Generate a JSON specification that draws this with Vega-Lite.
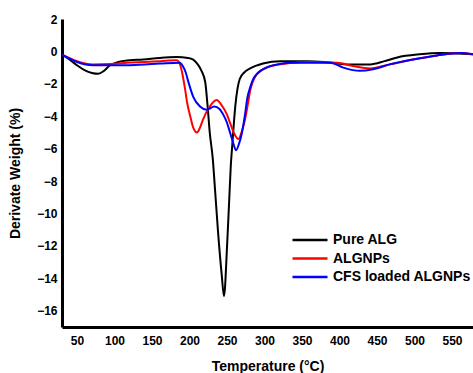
{
  "$schema": "https://vega.github.io/schema/vega-lite/v6.json",
  "width": 411,
  "height": 308,
  "autosize": {"type": "none"},
  "padding": {"left": 62, "top": 19, "right": 0, "bottom": 46},
  "background": "white",
  "config": {"view": {"stroke": null}},
  "data": {"values": [
    {"s":"Pure ALG","t":30,"w":-0.2},{"s":"Pure ALG","t":40,"w":-0.5},{"s":"Pure ALG","t":50,"w":-0.85},{"s":"Pure ALG","t":60,"w":-1.15},{"s":"Pure ALG","t":70,"w":-1.33},{"s":"Pure ALG","t":78,"w":-1.38},{"s":"Pure ALG","t":86,"w":-1.2},{"s":"Pure ALG","t":94,"w":-0.85},{"s":"Pure ALG","t":105,"w":-0.65},{"s":"Pure ALG","t":120,"w":-0.55},{"s":"Pure ALG","t":138,"w":-0.5},{"s":"Pure ALG","t":160,"w":-0.4},{"s":"Pure ALG","t":183,"w":-0.35},{"s":"Pure ALG","t":198,"w":-0.4},{"s":"Pure ALG","t":205,"w":-0.5},{"s":"Pure ALG","t":211,"w":-0.8},{"s":"Pure ALG","t":216,"w":-1.2},{"s":"Pure ALG","t":221,"w":-1.9},{"s":"Pure ALG","t":224,"w":-3.3},{"s":"Pure ALG","t":227,"w":-5.0},{"s":"Pure ALG","t":231,"w":-6.6},{"s":"Pure ALG","t":234,"w":-8.5},{"s":"Pure ALG","t":238,"w":-11.1},{"s":"Pure ALG","t":243,"w":-13.8},{"s":"Pure ALG","t":246,"w":-15.1},{"s":"Pure ALG","t":250,"w":-12.1},{"s":"Pure ALG","t":253,"w":-9.1},{"s":"Pure ALG","t":255,"w":-7.1},{"s":"Pure ALG","t":257,"w":-5.8},{"s":"Pure ALG","t":261,"w":-3.4},{"s":"Pure ALG","t":264,"w":-2.3},{"s":"Pure ALG","t":267,"w":-1.7},{"s":"Pure ALG","t":273,"w":-1.3},{"s":"Pure ALG","t":281,"w":-1.05},{"s":"Pure ALG","t":298,"w":-0.75},{"s":"Pure ALG","t":321,"w":-0.6},{"s":"Pure ALG","t":357,"w":-0.6},{"s":"Pure ALG","t":380,"w":-0.65},{"s":"Pure ALG","t":410,"w":-0.8},{"s":"Pure ALG","t":441,"w":-0.8},{"s":"Pure ALG","t":460,"w":-0.6},{"s":"Pure ALG","t":477,"w":-0.37},{"s":"Pure ALG","t":507,"w":-0.18},{"s":"Pure ALG","t":534,"w":-0.1},{"s":"Pure ALG","t":578,"w":-0.18},

    {"s":"ALGNPs","t":30,"w":-0.2},{"s":"ALGNPs","t":50,"w":-0.6},{"s":"ALGNPs","t":71,"w":-0.8},{"s":"ALGNPs","t":95,"w":-0.78},{"s":"ALGNPs","t":117,"w":-0.7},{"s":"ALGNPs","t":140,"w":-0.65},{"s":"ALGNPs","t":161,"w":-0.6},{"s":"ALGNPs","t":183,"w":-0.55},{"s":"ALGNPs","t":188,"w":-0.9},{"s":"ALGNPs","t":191,"w":-1.5},{"s":"ALGNPs","t":194,"w":-2.3},{"s":"ALGNPs","t":197,"w":-3.2},{"s":"ALGNPs","t":201,"w":-4.0},{"s":"ALGNPs","t":205,"w":-4.7},{"s":"ALGNPs","t":210,"w":-5.0},{"s":"ALGNPs","t":214,"w":-4.7},{"s":"ALGNPs","t":218,"w":-4.2},{"s":"ALGNPs","t":227,"w":-3.4},{"s":"ALGNPs","t":236,"w":-3.0},{"s":"ALGNPs","t":244,"w":-3.4},{"s":"ALGNPs","t":250,"w":-3.9},{"s":"ALGNPs","t":254,"w":-4.4},{"s":"ALGNPs","t":260,"w":-5.1},{"s":"ALGNPs","t":265,"w":-5.4},{"s":"ALGNPs","t":270,"w":-4.9},{"s":"ALGNPs","t":274,"w":-4.2},{"s":"ALGNPs","t":278,"w":-3.2},{"s":"ALGNPs","t":281,"w":-2.4},{"s":"ALGNPs","t":285,"w":-1.8},{"s":"ALGNPs","t":290,"w":-1.4},{"s":"ALGNPs","t":303,"w":-1.0},{"s":"ALGNPs","t":321,"w":-0.8},{"s":"ALGNPs","t":334,"w":-0.72},{"s":"ALGNPs","t":357,"w":-0.65},{"s":"ALGNPs","t":397,"w":-0.7},{"s":"ALGNPs","t":418,"w":-0.9},{"s":"ALGNPs","t":441,"w":-1.05},{"s":"ALGNPs","t":467,"w":-0.8},{"s":"ALGNPs","t":498,"w":-0.5},{"s":"ALGNPs","t":530,"w":-0.25},{"s":"ALGNPs","t":561,"w":-0.1},{"s":"ALGNPs","t":578,"w":-0.18},

    {"s":"CFS loaded ALGNPs","t":30,"w":-0.2},{"s":"CFS loaded ALGNPs","t":50,"w":-0.65},{"s":"CFS loaded ALGNPs","t":71,"w":-0.85},{"s":"CFS loaded ALGNPs","t":95,"w":-0.85},{"s":"CFS loaded ALGNPs","t":117,"w":-0.85},{"s":"CFS loaded ALGNPs","t":140,"w":-0.8},{"s":"CFS loaded ALGNPs","t":161,"w":-0.75},{"s":"CFS loaded ALGNPs","t":187,"w":-0.7},{"s":"CFS loaded ALGNPs","t":191,"w":-0.9},{"s":"CFS loaded ALGNPs","t":195,"w":-1.3},{"s":"CFS loaded ALGNPs","t":198,"w":-1.8},{"s":"CFS loaded ALGNPs","t":205,"w":-2.8},{"s":"CFS loaded ALGNPs","t":214,"w":-3.4},{"s":"CFS loaded ALGNPs","t":223,"w":-3.6},{"s":"CFS loaded ALGNPs","t":233,"w":-3.4},{"s":"CFS loaded ALGNPs","t":240,"w":-3.55},{"s":"CFS loaded ALGNPs","t":245,"w":-3.9},{"s":"CFS loaded ALGNPs","t":250,"w":-4.4},{"s":"CFS loaded ALGNPs","t":254,"w":-5.0},{"s":"CFS loaded ALGNPs","t":258,"w":-5.6},{"s":"CFS loaded ALGNPs","t":262,"w":-6.1},{"s":"CFS loaded ALGNPs","t":266,"w":-5.7},{"s":"CFS loaded ALGNPs","t":270,"w":-5.0},{"s":"CFS loaded ALGNPs","t":274,"w":-3.9},{"s":"CFS loaded ALGNPs","t":277,"w":-2.9},{"s":"CFS loaded ALGNPs","t":281,"w":-2.2},{"s":"CFS loaded ALGNPs","t":285,"w":-1.7},{"s":"CFS loaded ALGNPs","t":298,"w":-1.1},{"s":"CFS loaded ALGNPs","t":317,"w":-0.8},{"s":"CFS loaded ALGNPs","t":334,"w":-0.7},{"s":"CFS loaded ALGNPs","t":357,"w":-0.7},{"s":"CFS loaded ALGNPs","t":388,"w":-0.7},{"s":"CFS loaded ALGNPs","t":405,"w":-1.0},{"s":"CFS loaded ALGNPs","t":427,"w":-1.2},{"s":"CFS loaded ALGNPs","t":445,"w":-1.1},{"s":"CFS loaded ALGNPs","t":467,"w":-0.8},{"s":"CFS loaded ALGNPs","t":498,"w":-0.5},{"s":"CFS loaded ALGNPs","t":530,"w":-0.25},{"s":"CFS loaded ALGNPs","t":561,"w":-0.1},{"s":"CFS loaded ALGNPs","t":578,"w":-0.18}
  ]},
  "mark": {"type": "line", "interpolate": "monotone", "strokeWidth": 2, "clip": true},
  "encoding": {
    "x": {
      "field": "t", "type": "quantitative",
      "scale": {"domain": [30, 578], "nice": false, "zero": false},
      "axis": {
        "title": "Temperature (°C)", "values": [50,100,150,200,250,300,350,400,450,500,550],
        "grid": false, "ticks": false, "domainColor": "black", "domainWidth": 3,
        "labelFont": "Liberation Sans", "labelFontWeight": "bold", "labelFontSize": 12, "labelColor": "black",
        "labelPadding": 8, "labelFlush": false,
        "titleFont": "Liberation Sans", "titleFontWeight": "bold", "titleFontSize": 14, "titleColor": "black",
        "titlePadding": 13
      }
    },
    "y": {
      "field": "w", "type": "quantitative",
      "scale": {"domain": [-17, 2], "nice": false, "zero": false},
      "axis": {
        "title": "Derivate Weight (%)", "values": [2,0,-2,-4,-6,-8,-10,-12,-14,-16],
        "grid": false, "ticks": false, "domainColor": "black", "domainWidth": 3,
        "labelFont": "Liberation Sans", "labelFontWeight": "bold", "labelFontSize": 12, "labelColor": "black",
        "labelPadding": 5,
        "titleFont": "Liberation Sans", "titleFontWeight": "bold", "titleFontSize": 14, "titleColor": "black",
        "titlePadding": 14
      }
    },
    "color": {
      "field": "s", "type": "nominal",
      "scale": {"domain": ["Pure ALG", "ALGNPs", "CFS loaded ALGNPs"], "range": ["#000000", "#ff0000", "#0000ff"]},
      "legend": {
        "title": null, "orient": "none", "legendX": 229, "legendY": 212,
        "symbolType": "stroke", "symbolSize": 1225, "symbolStrokeWidth": 2.5,
        "labelFont": "Liberation Sans", "labelFontWeight": "bold", "labelFontSize": 14, "labelColor": "black",
        "labelOffset": 4, "rowPadding": 0.5, "clipHeight": 18
      }
    }
  }
}
